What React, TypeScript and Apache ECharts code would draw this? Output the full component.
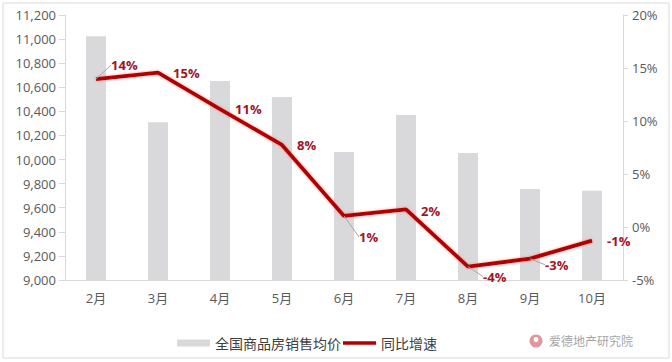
import React, { useEffect, useRef } from "react";
import * as echarts from "echarts";

const categories = ["2月", "3月", "4月", "5月", "6月", "7月", "8月", "9月", "10月"];
const avgPrice = [11023, 10310, 10652, 10520, 10063, 10370, 10055, 9756, 9740];
const yoyGrowth = [13.96, 14.56, 11.13, 7.74, 1.04, 1.67, -3.74, -2.99, -1.29];
const barName = "全国商品房销售均价";
const lineName = "同比增速";
const watermark = "爱德地产研究院";

// label vertical offsets (layout only)
const labelDy = [-14, 0, 0, 0, 21, 2, 10, 6, 0];
const labelLineShown = [true, false, false, false, true, false, true, true, false];

const FONT = "'Open Sans', 'Noto Sans CJK SC', sans-serif";

export default function App() {
  const ref = useRef<HTMLDivElement>(null);
  useEffect(() => {
    if (!ref.current) return;
    const chart = echarts.init(ref.current, null, { renderer: "svg" });
    chart.setOption({
      animation: false,
      backgroundColor: "#ffffff",
      textStyle: { fontFamily: FONT },
      grid: { left: 65, right: 49, top: 15, bottom: 82 },
      legend: {
        left: 172,
        top: 331,
        itemGap: 2,
        itemWidth: 33,
        itemHeight: 7,
        textStyle: { color: "#404040", fontSize: 14, fontFamily: FONT },
        data: [
          { name: barName, icon: "rect" },
          { name: lineName, icon: "path://M0,0h36v4h-36z" },
        ],
      },
      xAxis: {
        type: "category",
        data: categories,
        axisLine: { onZero: false, lineStyle: { color: "#d9d9d9" } },
        axisTick: { show: false },
        axisLabel: { color: "#595959", fontSize: 13, margin: 11 },
      },
      yAxis: [
        {
          type: "value",
          min: 9000,
          max: 11200,
          interval: 200,
          splitLine: { show: false },
          axisLine: { show: true, lineStyle: { color: "#d9d9d9" } },
          axisTick: { show: true, length: 6, lineStyle: { color: "#d9d9d9" } },
          axisLabel: {
            color: "#595959",
            fontSize: 13,
            margin: 9,
            formatter: (v: number) => v.toLocaleString("en-US"),
          },
        },
        {
          type: "value",
          min: -5,
          max: 20,
          interval: 5,
          splitLine: { show: false },
          axisLine: { show: true, lineStyle: { color: "#d9d9d9" } },
          axisTick: { show: true, length: 5, lineStyle: { color: "#d9d9d9" } },
          axisLabel: { color: "#595959", fontSize: 13, margin: 9, formatter: "{value}%" },
        },
      ],
      series: [
        {
          name: barName,
          type: "bar",
          data: avgPrice,
          barWidth: 20,
          itemStyle: { color: "#d9d9db" },
        },
        {
          name: lineName,
          type: "line",
          yAxisIndex: 1,
          data: yoyGrowth.map((v, i) => ({
            value: v,
            labelLine: { show: labelLineShown[i] },
          })),
          symbol: "circle",
          symbolSize: 0.1,
          showSymbol: true,
          lineStyle: {
            color: "#b00000",
            width: 3.8,
            shadowBlur: 3,
            shadowColor: "rgba(255,90,90,0.6)",
          },
          itemStyle: { color: "#b00000" },
          label: {
            show: true,
            position: "right",
            distance: 15,
            color: "#a0141e",
            fontWeight: "bold",
            fontSize: 13,
            fontFamily: FONT,
            formatter: (p: any) => Math.round(p.value) + "%",
          },
          labelLine: {
            lineStyle: { color: "#a6a6a6", width: 1 },
          },
          labelLayout: (p: any) => ({
            dy: labelDy[p.dataIndex],
          }),
        },
      ],
      graphic: [
        {
          type: "rect",
          shape: { x: 3, y: 3, width: 666, height: 355 },
          style: { fill: "none", stroke: "#d9d9d9", lineWidth: 1 },
          silent: true,
        },
        {
          type: "circle",
          shape: { cx: 536, cy: 341, r: 6.5 },
          style: { fill: "#e0979c" },
        },
        {
          type: "circle",
          shape: { cx: 536, cy: 339.5, r: 2.5 },
          style: { fill: "#ffffff" },
        },
        {
          type: "text",
          x: 549,
          y: 341,
          style: {
            text: watermark,
            fill: "#a6a6a6",
            fontSize: 12,
            fontFamily: FONT,
            verticalAlign: "middle",
          },
        },
      ],
    });
    return () => chart.dispose();
  }, []);
  return (
    <div
      ref={ref}
      style={{ position: "fixed", left: 0, top: 0, width: 672, height: 362 }}
    />
  );
}
